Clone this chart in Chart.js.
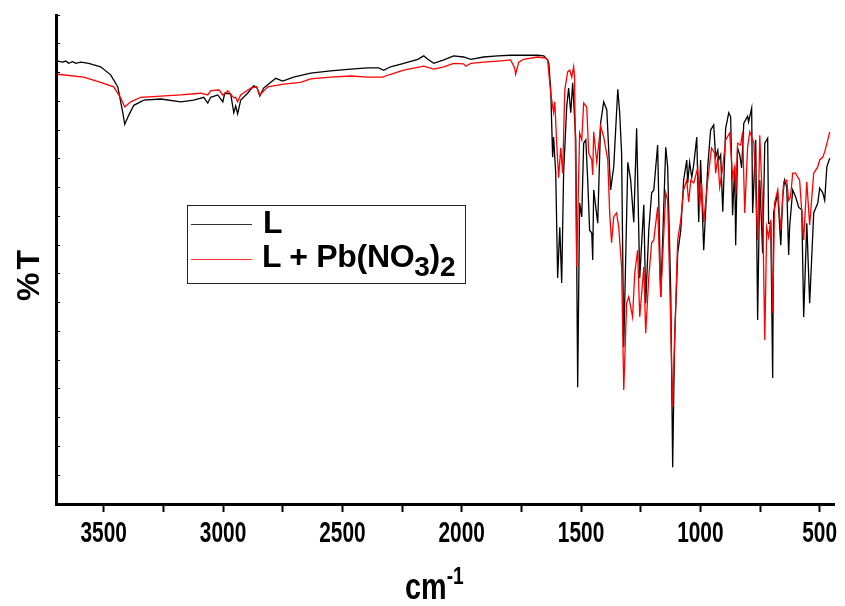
<!DOCTYPE html>
<html>
<head>
<meta charset="utf-8">
<script src="https://cdn.jsdelivr.net/npm/chart.js@4.4.1/dist/chart.umd.min.js"></script>
<style>
  html, body { margin: 0; padding: 0; background: #fff; }
  #wrap { position: relative; width: 845px; height: 606px; font-family: "Liberation Sans", Arial, sans-serif; font-weight: bold; color: #000; }
  #grafico { position: absolute; left: 0; top: 0; }
  .txt { position: absolute; white-space: nowrap; line-height: 1; }
  .leyenda { position: absolute; left: 187px; top: 205px; width: 277px; height: 77px; border: 1px solid #222; }
  .linea { position: absolute; height: 0; width: 61px; }
  sub { font-size: 28px; vertical-align: -9px; line-height: 0; }
  sup { font-size: 24px; vertical-align: 15px; line-height: 0; }
</style>
</head>
<body>
<div id="wrap">
  <canvas id="grafico" width="845" height="606"></canvas>
  <div class="leyenda"></div>
  <div class="linea" style="left:191px; top:224px; border-top:1px solid #333;"></div>
  <div class="linea" style="left:191px; top:259px; border-top:1px solid #ff3030;"></div>
  <div class="txt" style="left:263px; top:206px; font-size:32px;">L</div>
  <div class="txt" style="left:262px; top:240px; font-size:32px; letter-spacing:-0.3px;">L + Pb(NO<sub>3</sub>)<sub>2</sub></div>
  <div class="txt" style="left:405px; top:569px; font-size:36px; transform-origin:0 0; transform:scaleX(0.8);">cm<sup>-1</sup></div>
  <div class="txt" style="left:12px; top:301px; font-size:32px; letter-spacing:3px; transform-origin:0 0; transform:rotate(-90deg);">%T</div>
</div>
<script>
const lWn = [3693, 3672, 3659, 3647, 3630, 3617, 3596, 3563, 3513, 3471, 3441, 3420, 3412, 3395, 3374, 3332, 3261, 3177, 3123, 3081, 3064, 3052, 3022, 3001, 2993,
  2968, 2955, 2947, 2939, 2926, 2897, 2872, 2859, 2846, 2830, 2800, 2779, 2750, 2704, 2633, 2549, 2465, 2394, 2348, 2327,
  2298, 2243, 2184, 2159, 2142, 2117, 2075, 2034, 1992, 1962, 1908, 1849, 1795, 1682, 1656, 1640, 1635, 1627, 1619, 1615,
  1606, 1598, 1589, 1581, 1573, 1560, 1552, 1543, 1535, 1522, 1514, 1506, 1497, 1489, 1480, 1472, 1464, 1455, 1451, 1447,
  1430, 1418, 1405, 1392, 1376, 1363, 1346, 1338, 1330, 1321, 1304, 1292, 1279, 1267, 1254, 1237, 1229, 1216, 1204, 1195,
  1179, 1166, 1145, 1137, 1124, 1116, 1108, 1095, 1082, 1070, 1057, 1053, 1045, 1036, 1028, 1015, 1007, 999, 986, 969,
  957, 944, 936, 927, 923, 915, 906, 894, 881, 873, 865, 856, 852, 844, 835, 827, 818, 802, 798, 785,
  781, 768, 760, 751, 739, 730, 718, 714, 705, 697, 693, 676, 663, 655, 647, 638, 630, 626, 613, 601,
  588, 575, 567, 554, 542, 525, 508, 500, 487, 479, 470, 458];
const lT = [77.0, 76.8, 77.0, 76.6, 76.9, 76.6, 76.8, 76.6, 76.0, 74.6, 72.5, 68.0, 66.0, 67.6, 69.3, 70.2, 70.4, 69.9, 70.2, 70.7, 69.7, 70.7, 71.1, 69.9, 71.4,
  71.3, 68.0, 69.2, 67.8, 70.2, 71.4, 72.7, 72.5, 70.9, 72.3, 73.3, 74.0, 73.5, 74.2, 74.9, 75.3, 75.6, 75.8, 75.8, 75.4,
  76.0, 76.6, 77.3, 77.9, 77.3, 76.6, 77.2, 77.9, 77.7, 77.3, 77.7, 77.9, 78.0, 78.0, 77.9, 77.2, 76.6, 72.0, 60.3, 63.8,
  57.5, 39.3, 48.1, 38.4, 57.5, 69.0, 72.3, 68.0, 73.2, 63.3, 20.3, 52.3, 49.9, 62.7, 63.3, 56.3, 47.6, 47.1, 42.4, 54.6,
  48.8, 66.2, 69.9, 68.5, 54.6, 58.6, 72.1, 68.0, 61.0, 27.3, 59.4, 56.3, 49.0, 65.3, 39.3, 52.0, 34.9, 47.6, 54.1, 54.6,
  62.4, 36.0, 62.0, 58.6, 36.7, 6.4, 28.5, 43.6, 47.6, 56.3, 59.8, 55.8, 59.4, 56.8, 58.9, 63.8, 49.0, 59.8, 44.1, 58.6,
  65.0, 65.9, 60.3, 61.5, 59.8, 60.7, 50.8, 65.3, 68.0, 67.3, 50.2, 58.6, 45.0, 61.9, 60.7, 58.4, 66.2, 67.4, 66.4, 68.8,
  50.6, 63.3, 32.0, 56.3, 43.6, 62.7, 63.6, 48.8, 48.8, 21.9, 50.6, 54.1, 45.0, 53.4, 56.3, 55.1, 43.3, 48.1, 54.6, 53.4,
  51.6, 51.1, 32.5, 48.8, 34.9, 50.6, 52.3, 54.9, 54.1, 52.8, 58.6, 60.1];

const pbWn = [3693, 3584, 3513, 3458, 3429, 3412, 3387, 3345, 3261, 3177, 3094, 3064, 3052, 3018, 3001, 2980, 2955, 2947, 2939, 2926,
  2884, 2859, 2846, 2813, 2746, 2675, 2633, 2549, 2465, 2394, 2331, 2298, 2243, 2159, 2117, 2075, 2034, 1992, 1983, 1962,
  1908, 1849, 1795, 1778, 1774, 1761, 1740, 1682, 1648, 1640, 1627, 1615, 1610, 1602, 1594, 1585, 1577, 1568, 1556, 1547,
  1539, 1531, 1527, 1518, 1506, 1497, 1489, 1476, 1468, 1455, 1451, 1447, 1434, 1418, 1405, 1388, 1380, 1372, 1363, 1351,
  1342, 1330, 1321, 1309, 1300, 1284, 1275, 1263, 1254, 1237, 1229, 1216, 1204, 1195, 1179, 1166, 1145, 1137, 1116, 1095,
  1082, 1070, 1057, 1049, 1040, 1028, 1011, 1003, 995, 986, 969, 953, 940, 936, 927, 919, 906, 894, 877, 865,
  856, 852, 844, 831, 823, 814, 802, 793, 781, 776, 760, 751, 739, 730, 722, 714, 705, 697, 689, 676,
  663, 651, 638, 630, 622, 613, 601, 592, 584, 567, 554, 542, 525, 508, 500, 487, 479, 466, 458];
const pbT = [74.7, 74.2, 73.3, 72.5, 70.6, 69.0, 69.9, 70.7, 70.9, 71.1, 71.4, 71.1, 71.8, 72.0, 71.1, 71.8, 70.6, 70.7, 69.9, 71.1,
  72.3, 72.5, 71.1, 72.5, 73.0, 73.3, 73.9, 74.2, 74.4, 74.2, 74.2, 74.7, 75.4, 76.1, 75.6, 76.0, 76.6, 76.5, 76.1, 76.6,
  76.8, 77.0, 77.2, 75.8, 74.7, 76.8, 77.3, 77.7, 77.5, 77.2, 71.4, 68.1, 69.9, 62.7, 56.7, 61.9, 57.5, 72.0, 75.1, 75.4,
  74.2, 76.0, 74.2, 41.2, 64.5, 63.3, 69.7, 69.0, 61.0, 59.8, 57.2, 64.7, 59.4, 65.7, 63.8, 59.8, 50.6, 45.4, 49.9, 50.6,
  48.1, 41.2, 19.8, 34.9, 36.0, 32.5, 40.1, 44.1, 32.5, 41.2, 29.7, 39.5, 45.4, 45.9, 51.6, 36.0, 54.1, 52.8, 16.9, 45.9,
  49.4, 54.6, 56.3, 52.5, 56.3, 55.8, 58.4, 51.6, 55.8, 49.0, 56.3, 61.9, 61.0, 57.5, 60.1, 55.1, 58.6, 63.3, 64.5, 56.8,
  58.6, 53.7, 62.7, 62.4, 64.7, 50.6, 62.0, 64.7, 63.3, 62.9, 45.9, 64.1, 51.6, 28.5, 48.1, 46.4, 49.4, 33.2, 52.3, 54.6,
  47.6, 56.0, 56.3, 52.8, 53.4, 57.5, 57.5, 56.8, 56.3, 45.9, 56.0, 48.5, 57.5, 58.6, 59.8, 60.3, 61.2, 63.3, 64.7];

// marcas del eje x (cada 250, etiqueta cada 500)
const xTicks = [3500, 3250, 3000, 2750, 2500, 2250, 2000, 1750, 1500, 1250, 1000, 750, 500];
const xMin = 440;
const xMax = 3700;

const canvas = document.getElementById('grafico');
const ctx = canvas.getContext('2d');

function toPoints(wn, t) {
    return wn.map((x, i) => ({ x: x, y: t[i] }));
}

// Etiquetas del eje x algo estrechas, como en la figura original
const etiquetasX = {
    id: 'etiquetasX',
    afterDraw(chart) {
        const s = chart.scales.x;
        const c = chart.ctx;
        c.save();
        c.font = 'bold 29px "Liberation Sans"';
        c.fillStyle = '#000';
        c.textAlign = 'center';
        c.textBaseline = 'alphabetic';
        xTicks.filter(v => v % 500 === 0).forEach(v => {
            c.save();
            c.translate(s.getPixelForValue(v), s.top + 38);
            c.scale(0.72, 1);
            c.fillText(String(v), 0, 0);
            c.restore();
        });
        c.restore();
    },
};

const myChart = new Chart(ctx, {
    type: 'line',
    data: {
        datasets: [{
            label: 'L',
            data: toPoints(lWn, lT),
            borderColor: '#000000',
            borderWidth: 1.3,
            pointRadius: 0,
            order: 1,
        }, {
            label: 'L + Pb(NO3)2',
            data: toPoints(pbWn, pbT),
            borderColor: '#ff0000',
            borderWidth: 1.3,
            pointRadius: 0,
            order: 0,
        }],
    },
    options: {
        responsive: false,
        animation: false,
        layout: { padding: { top: 15, right: 11, left: 0, bottom: 0 } },
        plugins: {
            legend: { display: false },
            tooltip: { enabled: false },
        },
        scales: {
            x: {
                type: 'linear',
                reverse: true,
                min: xMin,
                max: xMax,
                border: { width: 3, color: '#000' },
                grid: { drawOnChartArea: false, tickLength: 8, tickWidth: 2, tickColor: '#000' },
                afterBuildTicks: s => { s.ticks = xTicks.map(v => ({ value: v })); },
                ticks: { display: false },
                afterFit: s => { s.height = 102; },
            },
            y: {
                min: 0,
                max: 85,
                border: { width: 3, color: '#000' },
                grid: { drawOnChartArea: false, tickLength: -4, tickWidth: 1, tickColor: '#000' },
                ticks: { stepSize: 5, display: false },
                afterFit: s => { s.width = 56; },
            },
        },
    },
    plugins: [etiquetasX],
});
</script>
</body>
</html>
